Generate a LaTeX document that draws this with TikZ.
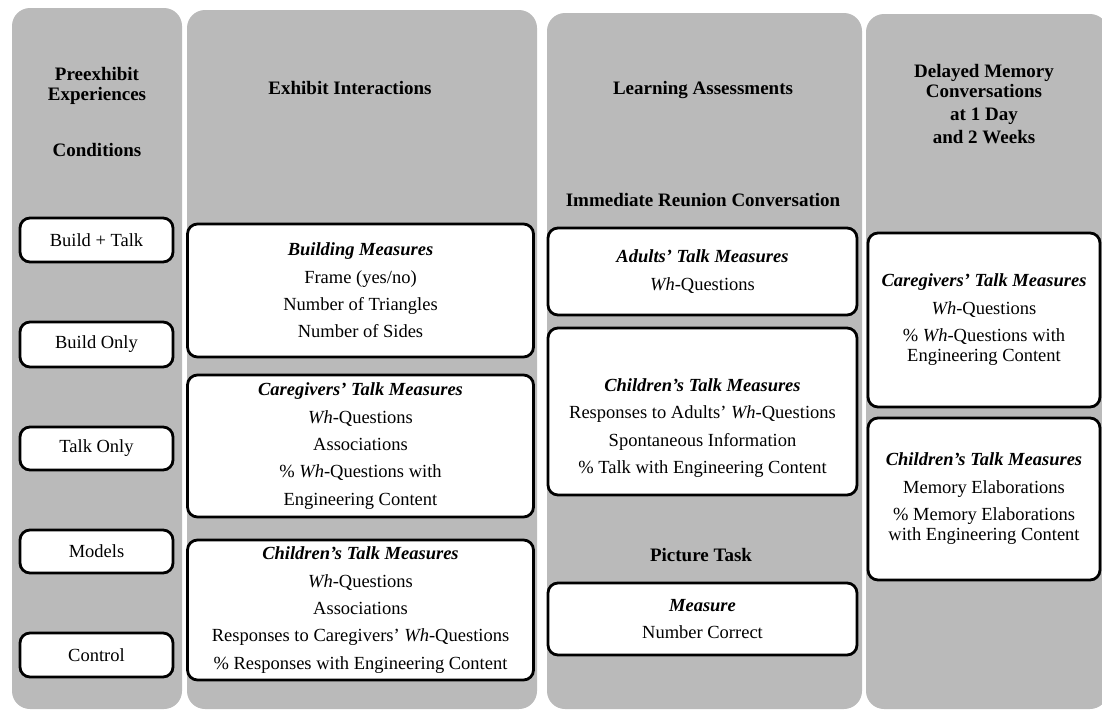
\documentclass[tikz,border=0pt]{standalone}
\usepackage{fontspec}
\setmainfont{Liberation Serif}
\definecolor{panel}{RGB}{186,186,186}
\begin{document}
\begin{tikzpicture}[x=1pt,y=-1pt,
  panelst/.style={fill=panel, rounded corners=18pt},
  boxst/.style={draw=black, line width=2.8pt, fill=white, rounded corners=10pt, inner sep=0pt},
  txt/.style={align=center, font=\fontsize{18.5}{27.3}\selectfont, inner sep=0pt},
  head/.style={align=center, font=\fontsize{19}{20}\selectfont\bfseries, inner sep=0pt}]
\useasboundingbox (0,0) rectangle (1102,713);
% panels
\path[panelst] (12,8) rectangle (182,709);
\path[panelst] (187,10) rectangle (537,709);
\path[panelst] (547,13) rectangle (862,709);
\path[panelst] (866,14) rectangle (1108,709);
% headings
\node[head] (h1) at (97,86) {Preexhibit\\Experiences};
\node[head] (h1b) at (97,150) {Conditions};
\node[head] (h2) at (350,88) {Exhibit Interactions};
\node[head] (h3) at (703,90) {Learning Assessments};
\node[head] (h3b) at (703,200) {Immediate Reunion Conversation};
\node[head] (h3c) at (701,555) {Picture Task};
\node[head] (h4) at (984,104) {Delayed Memory\\Conversations\\[3pt]at 1 Day\\[3pt]and 2 Weeks};
% column 1
\node[boxst, txt, minimum width=153pt, minimum height=44pt] (bt) at (96.5,240) {Build + Talk};
\node[boxst, txt, minimum width=153pt, minimum height=45pt] (bo) at (96.5,344.5) {Build Only};
\node[boxst, txt, minimum width=153pt, minimum height=43pt] (to) at (96.5,448.5) {Talk Only};
\node[boxst, txt, minimum width=153pt, minimum height=43pt] (mo) at (96.5,551.5) {Models};
\node[boxst, txt, minimum width=153pt, minimum height=44pt] (co) at (96.5,655) {Control};
% column 2
\node[boxst, txt, minimum width=346pt, minimum height=133pt] (bm) at (360.5,290.5)
  {\textbf{\textit{Building Measures}}\\Frame (yes/no)\\Number of Triangles\\Number of Sides};
\node[boxst, txt, minimum width=346pt, minimum height=142pt] (cg) at (360.5,446)
  {\textbf{\textit{Caregivers' Talk Measures}}\\\textit{Wh}-Questions\\Associations\\\% \textit{Wh}-Questions with\\Engineering Content};
\node[boxst, txt, minimum width=346pt, minimum height=140pt] (ch) at (360.5,610)
  {\textbf{\textit{Children's Talk Measures}}\\\textit{Wh}-Questions\\Associations\\Responses to Caregivers' \textit{Wh}-Questions\\\% Responses with Engineering Content};
% column 3
\node[boxst, txt, minimum width=309pt, minimum height=87pt] (ad) at (702.5,271.5)
  {\textbf{\textit{Adults' Talk Measures}}\\\textit{Wh}-Questions};
\node[boxst, minimum width=309pt, minimum height=167pt] (chl) at (702.5,411.5) {};
\node[txt] (chlt) at (702.5,428)
  {\textbf{\textit{Children's Talk Measures}}\\Responses to Adults' \textit{Wh}-Questions\\Spontaneous Information\\\% Talk with Engineering Content};
\node[boxst, txt, minimum width=309pt, minimum height=72pt] (me) at (702.5,619)
  {\textbf{\textit{Measure}}\\Number Correct};
% column 4
\node[boxst, txt, minimum width=232pt, minimum height=174pt] (cg4) at (984,320)
  {\textbf{\textit{Caregivers' Talk Measures}}\\\textit{Wh}-Questions\\\% \textit{Wh}-Questions with\\[-7pt]Engineering Content};
\node[boxst, txt, minimum width=232pt, minimum height=162pt] (ch4) at (984,499)
  {\textbf{\textit{Children's Talk Measures}}\\Memory Elaborations\\\% Memory Elaborations\\[-7pt]with Engineering Content};
\end{tikzpicture}
\end{document}
